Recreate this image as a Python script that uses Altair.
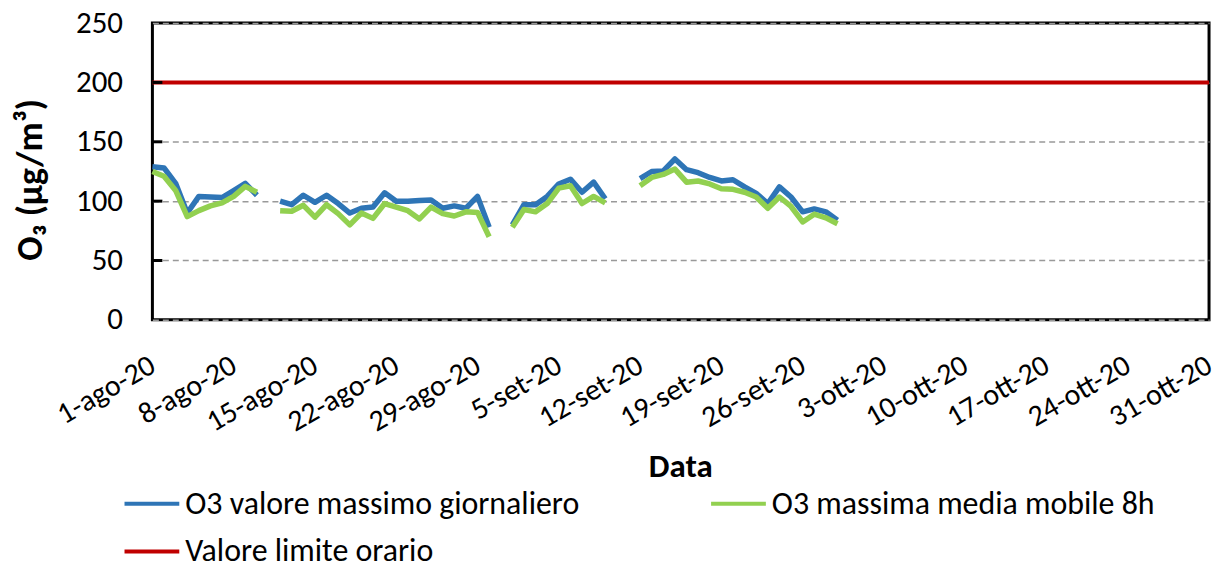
import altair as alt
import pandas as pd

FONT = "Carlito, 'Liberation Sans Narrow', 'Open Sans', sans-serif"

# --- data ---
dates_aug = [f"2020-08-{d:02d}" for d in range(1, 32)]
dates_sep = [f"2020-09-{d:02d}" for d in range(1, 30)]
dates = dates_aug + dates_sep

blue = [129, 128, 115, 90, 104, 103.5, 103, 109, 115, 105, None,
        100, 97, 105, 99, 105, 98, 90, 94, 95, 107, 100, 100, 100.5, 101, 94, 96, 94, 104, 78, None,
        80, 97, 97, 104, 114.5, 118.5, 107.5, 116, 102, None, None,
        119, 125, 125.5, 135.5, 126.5, 124, 120, 117, 118, 112, 106.5, 98, 112, 103.5, 91, 93.5, 91, 84]
green = [125, 121, 109, 87, 92, 96, 98.5, 104, 112.5, 107.5, None,
         92, 91.5, 96.5, 86.5, 97, 89.5, 80, 90, 85.5, 98, 95, 92, 85, 95, 89.5, 87.5, 91, 90.5, 70, None,
         78, 93, 91, 98, 111, 113, 98, 104, 98.5, None, None,
         113, 120, 122.5, 127, 116, 117, 114.5, 110.5, 110, 107.5, 103.5, 94, 103.5, 95.5, 82.5, 89, 86, 81]
limit_dates = ["2020-08-01", "2020-10-31"]
limit_vals = [200, 200]

S_BLUE = "O3 valore massimo giornaliero"
S_GREEN = "O3 massima media mobile 8h"
S_RED = "Valore limite orario"
series_names = [S_BLUE, S_GREEN, S_RED]
series_colors = ["#2E75B6", "#92D050", "#C00000"]

tick_dates = ["2020-08-01", "2020-08-08", "2020-08-15", "2020-08-22", "2020-08-29",
              "2020-09-05", "2020-09-12", "2020-09-19", "2020-09-26", "2020-10-03",
              "2020-10-10", "2020-10-17", "2020-10-24", "2020-10-31"]
y_ticks = [0, 50, 100, 150, 200, 250]
inner_ticks = [50, 100, 150, 200]

# --- build table, splitting contiguous runs into segments ---
rows = []
for name, vals in [(S_BLUE, blue), (S_GREEN, green)]:
    seg = 0
    prev_none = True
    for d, v in zip(dates, vals):
        if v is None:
            prev_none = True
            continue
        if prev_none:
            seg += 1
            prev_none = False
        rows.append({"date": d, "value": v, "series": name, "seg": f"{name}-{seg}"})
for d, v in zip(limit_dates, limit_vals):
    rows.append({"date": d, "value": v, "series": S_RED, "seg": "red"})
df = pd.DataFrame(rows)

def ms(s):
    return int(pd.Timestamp(s, tz="UTC").value // 10**6)

label_expr = ("utcdate(datum.value) + '-' + "
              "['gen','feb','mar','apr','mag','giu','lug','ago','set','ott','nov','dic'][utcmonth(datum.value)]"
              " + '-' + utcFormat(datum.value, '%y')")

x = alt.X("date:T",
          scale=alt.Scale(type="utc", domain=[ms("2020-08-01"), ms("2020-10-31")], nice=False),
          axis=alt.Axis(values=[ms(t) for t in tick_dates], labelExpr=label_expr,
                        labelAngle=-30, labelAlign="right", labelBaseline="middle",
                        labelFontSize=30, labelFont=FONT, labelColor="black",
                        labelPadding=43, tickSize=0, grid=False, domain=False,
                        title="Data", titleFontSize=33, titleFont=FONT, titleFontWeight="bold",
                        titleColor="black", titleX=530, titleY=147, titleBaseline="middle",
                        labelOverlap=False, labelBound=False))
y = alt.Y("value:Q",
          scale=alt.Scale(domain=[0, 250], nice=False),
          axis=alt.Axis(values=y_ticks, labelFontSize=31, labelFont=FONT, labelColor="black",
                        labelPadding=30, tickSize=0, domain=False,
                        grid=True, gridColor="#999999", gridDash=[6, 4], gridWidth=1.5,
                        title="O₃ (µg/m³)", titleFontSize=36, titleFont=FONT, titleFontWeight="bold",
                        titleColor="black", titleX=-122, titleY=157, titleAngle=-90,
                        titleAlign="center", titleBaseline="middle"))

color = alt.Color("series:N",
                  scale=alt.Scale(domain=series_names, range=series_colors),
                  legend=alt.Legend(orient="none", legendX=-30, legendY=453, columns=2,
                                    direction="horizontal", title=None,
                                    symbolType="stroke", symbolSize=3025, symbolStrokeWidth=4,
                                    labelFontSize=32, labelFont=FONT, labelColor="black",
                                    labelOffset=4, labelLimit=700, columnPadding=124,
                                    rowPadding=2))

lines = alt.Chart(df).mark_line(strokeJoin="round").encode(
    x=x, y=y, color=color, detail="seg:N",
    strokeWidth=alt.condition(alt.datum.series == S_RED, alt.value(4), alt.value(5.5)),
)

ticks_df = pd.DataFrame({"v": inner_ticks})
inner = alt.Chart(ticks_df).mark_rule(color="black", strokeWidth=3).encode(
    y=alt.Y("v:Q", scale=alt.Scale(domain=[0, 250], nice=False)),
    x=alt.value(0), x2=alt.value(10),
)

chart = alt.layer(lines, inner).properties(
    width=1061, height=298,
    background="white",
    autosize=alt.AutoSizeParams(type="none"),
    padding={"left": 145, "top": 14, "right": 8, "bottom": 245},
).configure_view(stroke="black", strokeWidth=3)

chart.save("out.html", embed_options={"renderer": "svg", "actions": False})
